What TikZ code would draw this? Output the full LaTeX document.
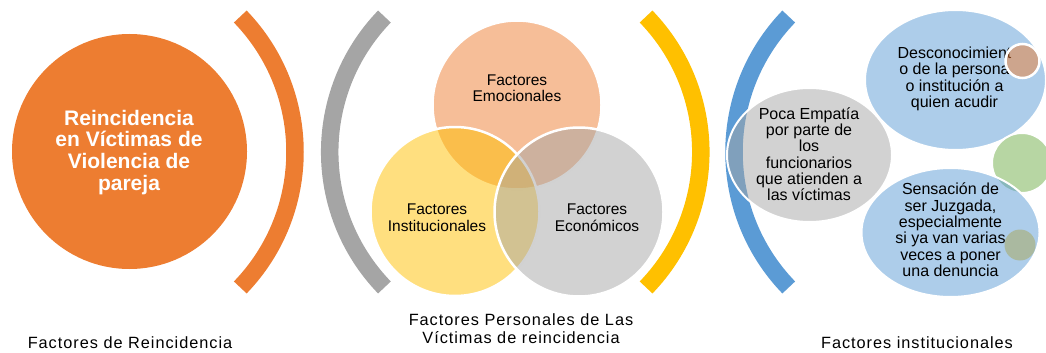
\documentclass[tikz,border=0pt]{standalone}
\usepackage{fontspec}
\setmainfont{Liberation Sans}
\newfontfamily\capfont[LetterSpace=6]{Liberation Sans}
\definecolor{accorange}{HTML}{ED7D31}
\definecolor{accgray}{HTML}{A5A5A5}
\definecolor{accgold}{HTML}{FFC000}
\definecolor{accblue}{HTML}{5B9BD5}
\definecolor{accgreen}{HTML}{70AD47}
\definecolor{dotgray}{HTML}{AAB9A0}
\tikzset{
  band/.style={line width=17.5pt},
  venn/.style={draw=white,line width=2.5pt,fill opacity=0.5},
  bubble/.style={draw=white,line width=2pt,fill opacity=0.5},
  venntext/.style={inner sep=0pt,align=center,font=\fontsize{15.5}{16.4}\selectfont},
  bubbletext/.style={inner sep=0pt,align=center,font=\fontsize{16}{16.35}\selectfont},
  captext/.style={inner sep=0pt,font=\capfont\fontsize{16.3}{18.3}\selectfont}
}
\begin{document}
\begin{tikzpicture}[x=1pt,y=-1pt]
\useasboundingbox (0,0) rectangle (1046,353);
\fill[color=accorange] (129.5,151.5) circle[radius=117.5pt];
\node[inner sep=0pt,align=center,text=white,font=\fontsize{21}{21.7}\selectfont\bfseries] (title) at (129,152.4) {Reincidencia\\en Víctimas de\\Violencia de\\pareja};
\foreach \cx/\a/\c in {100/0/accorange,524.7/180/accgray,505.8/0/accgold,929/180/accblue}{
	\draw[color=\c,band] (\cx,152) ++(\a-44:195pt) arc[start angle=\a-44,end angle=\a+44,radius=195pt];}
\draw[venn,fill=accorange] (517,105) circle[radius=84.5pt];
\draw[venn,fill=accgold] (455,211.5) circle[radius=84.5pt];
\draw[venn,fill=accgray] (579,212) circle[radius=84.5pt];
\node[venntext] (emoc) at (517,88) {Factores\\Emocionales};
\node[venntext] (inst) at (437,217.8) {Factores\\Institucionales};
\node[venntext] (econ) at (597,217.8) {Factores\\Económicos};
\draw[bubble,fill=accgray] (809.5,155) ellipse[x radius=82.5pt,y radius=67pt];
\draw[bubble,fill=accblue] (955.5,80) ellipse[x radius=90.5pt,y radius=70pt];
\draw[bubble,fill=accgreen] (1022,163) circle[radius=30pt];
\draw[bubble,fill=accblue] (950.5,232.5) ellipse[x radius=89pt,y radius=64.5pt];
\node[bubbletext] (empatia) at (809,154.2) {Poca Empatía\\por parte de\\los\\funcionarios\\que atienden a\\las víctimas};
\node[bubbletext] (descon) at (954.5,78.8) {Desconocimient\\o de la persona\\o institución a\\quien acudir};
\node[bubbletext] (juzgada) at (950.5,230) {Sensación de\\ser Juzgada,\\especialmente\\si ya van varias\\veces a poner\\una denuncia};
\draw[bubble,line width=2.5pt,fill=accorange] (1022.5,61) circle[radius=17pt];
\fill[color=dotgray] (1020,245) circle[radius=15.5pt];
\node[captext,anchor=base] (reinc) at (130,348.3) {Factores de Reincidencia};
\node[captext,align=center,anchor=north] (pers) at (521,313.3) {Factores Personales de Las\\Víctimas de reincidencia};
\node[captext,anchor=base] (instit) at (917,348.3) {Factores institucionales};
\end{tikzpicture}
\end{document}
